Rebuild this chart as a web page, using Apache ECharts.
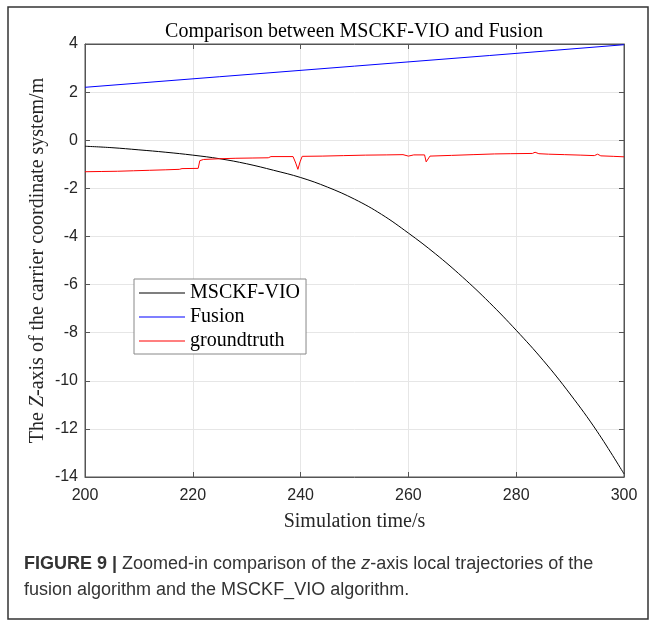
<!DOCTYPE html>
<html>
<head>
<meta charset="utf-8">
<title>Comparison between MSCKF-VIO and Fusion</title>
<script src="https://cdn.jsdelivr.net/npm/echarts/dist/echarts.min.js"></script>
<style>
  html, body { margin: 0; padding: 0; background: #fff; }
  #chart { width: 657px; height: 623px; }
</style>
</head>
<body>
<div id="chart"></div>
<script>
// 数据：估计值
const vioTime = [200, 205, 210, 215, 220, 225, 230, 235, 240, 245, 250, 255, 260, 265, 270, 275, 280, 285, 290, 295, 300];
const vioZ = [-0.25, -0.31, -0.40, -0.50, -0.62, -0.77, -0.98, -1.25, -1.55, -1.95, -2.45, -3.08, -3.86, -4.72, -5.68, -6.74, -7.90, -9.15, -10.55, -12.10, -13.87];

const fusionTime = [200, 225, 250, 275, 300];
const fusionZ = [2.20, 2.64, 3.08, 3.52, 3.97];

const truthTime = [200, 203, 206, 209, 212, 215, 217.5, 218, 221, 221.3, 222, 225, 228, 231, 234, 234.5, 238.6, 239.1, 239.5, 239.9, 240.3, 244, 248, 252, 256, 259, 260, 261, 263, 263.3, 263.6, 264, 268, 272, 276, 279, 283, 283.5, 284.2, 286, 289, 292, 294.5, 295.1, 295.7, 298, 300];
const truthZ = [-1.31, -1.30, -1.29, -1.27, -1.25, -1.23, -1.21, -1.18, -1.17, -0.85, -0.80, -0.77, -0.75, -0.74, -0.73, -0.68, -0.68, -0.95, -1.21, -0.90, -0.67, -0.66, -0.64, -0.62, -0.61, -0.60, -0.66, -0.61, -0.61, -0.90, -0.97, -0.66, -0.63, -0.60, -0.57, -0.56, -0.55, -0.50, -0.56, -0.58, -0.60, -0.62, -0.64, -0.58, -0.65, -0.67, -0.69];

// 坐标轴刻度
const xMin = 200, xMax = 300, xStep = 20;
const yMin = -14, yMax = 4, yStep = 2;

const seriesNames = ['MSCKF-VIO', 'Fusion', 'groundtruth'];

const zip = (xs, ys) => xs.map((x, i) => [x, ys[i]]);

const serif = '"Liberation Serif", "Times New Roman", serif';
const sans = '"Liberation Sans", Arial, sans-serif';
const axisColor = '#555';

let mychart = echarts.init(document.getElementById('chart'));

mychart.setOption({
  animation: false,
  grid: {
    left: 85,
    right: 33,
    top: 44,
    bottom: 146,
    show: true,
    borderColor: axisColor,
    borderWidth: 1
  },
  legend: {
    data: seriesNames,
    orient: 'vertical',
    left: 134,
    top: 279,
    itemWidth: 46,
    itemHeight: 14,
    itemGap: 4,
    icon: 'path://M0,0H46V1.2H0Z', // 图例只画线，不画圆点
    symbolKeepAspect: true,
    padding: [4, 6, 3, 5],
    borderColor: '#888',
    borderWidth: 1,
    borderRadius: 0,
    backgroundColor: '#fff',
    textStyle: { fontFamily: serif, fontSize: 20, lineHeight: 20, color: '#000' }
  },
  xAxis: [
    {
      type: 'value',
      min: xMin,
      max: xMax,
      interval: xStep,
      name: 'Simulation time/s',
      nameLocation: 'middle',
      nameGap: 35,
      nameTextStyle: { fontFamily: serif, fontSize: 20, color: '#262626' },
      axisLine: { show: true, onZero: false, lineStyle: { color: axisColor } },
      axisTick: { inside: true, length: 5, lineStyle: { color: axisColor } },
      axisLabel: { fontFamily: sans, fontSize: 16, color: '#262626', margin: 11 },
      splitLine: { show: true, lineStyle: { color: '#e6e6e6' } }
    },
    {
      // 上边框刻度
      type: 'value',
      position: 'top',
      min: xMin,
      max: xMax,
      interval: xStep,
      axisLine: { show: true, onZero: false, lineStyle: { color: axisColor } },
      axisTick: { inside: true, length: 5, lineStyle: { color: axisColor } },
      axisLabel: { show: false },
      splitLine: { show: false }
    }
  ],
  yAxis: [
    {
      type: 'value',
      min: yMin,
      max: yMax,
      interval: yStep,
      name: 'The {i|Z}-axis of the carrier coordinate system/m',
      nameLocation: 'middle',
      nameGap: 37,
      nameMoveOverlap: false,
      nameTextStyle: {
        fontFamily: serif,
        fontSize: 20,
        color: '#262626',
        rich: { i: { fontFamily: serif, fontSize: 20, fontStyle: 'italic', color: '#262626' } }
      },
      axisLine: { show: true, onZero: false, lineStyle: { color: axisColor } },
      axisTick: { inside: true, length: 5, lineStyle: { color: axisColor } },
      axisLabel: { fontFamily: sans, fontSize: 16, color: '#262626', margin: 7 },
      splitLine: { show: true, lineStyle: { color: '#e6e6e6' } }
    },
    {
      // 右边框刻度
      type: 'value',
      position: 'right',
      min: yMin,
      max: yMax,
      interval: yStep,
      axisLine: { show: true, onZero: false, lineStyle: { color: axisColor } },
      axisTick: { inside: true, length: 5, lineStyle: { color: axisColor } },
      axisLabel: { show: false },
      splitLine: { show: false }
    }
  ],
  series: [
    {
      name: seriesNames[0],
      type: 'line',
      data: zip(vioTime, vioZ),
      symbol: 'none',
      smooth: 0.4,
      lineStyle: { color: '#000', width: 1 },
      itemStyle: { color: '#000' }
    },
    {
      name: seriesNames[1],
      type: 'line',
      data: zip(fusionTime, fusionZ),
      symbol: 'none',
      lineStyle: { color: '#0000ff', width: 1 },
      itemStyle: { color: '#0000ff' }
    },
    {
      name: seriesNames[2],
      type: 'line',
      data: zip(truthTime, truthZ),
      symbol: 'none',
      lineStyle: { color: '#ff0000', width: 1 },
      itemStyle: { color: '#ff0000' }
    }
  ],
  graphic: [
    {
      // 外框
      type: 'rect',
      shape: { x: 8, y: 7, width: 640, height: 612 },
      style: { fill: 'none', stroke: '#333', lineWidth: 1.5 },
      silent: true
    },
    {
      type: 'text',
      x: 354,
      y: 32,
      style: {
        text: 'Comparison between MSCKF-VIO and Fusion',
        fontFamily: serif,
        fontSize: 20,
        fill: '#000',
        align: 'center',
        verticalAlign: 'middle'
      }
    },
    {
      // 图注
      type: 'text',
      x: 24,
      y: 577,
      style: {
        text: '{b|FIGURE 9 |} Zoomed-in comparison of the {i|z}-axis local trajectories of the\nfusion algorithm and the MSCKF_VIO algorithm.',
        fontFamily: sans,
        fontSize: 18,
        fill: '#333',
        lineHeight: 26,
        verticalAlign: 'middle',
        rich: {
          b: { fontFamily: sans, fontSize: 18, fontWeight: 'bold', fill: '#333' },
          i: { fontFamily: sans, fontSize: 18, fontStyle: 'italic', fill: '#333' }
        }
      }
    }
  ]
});
</script>
</body>
</html>
